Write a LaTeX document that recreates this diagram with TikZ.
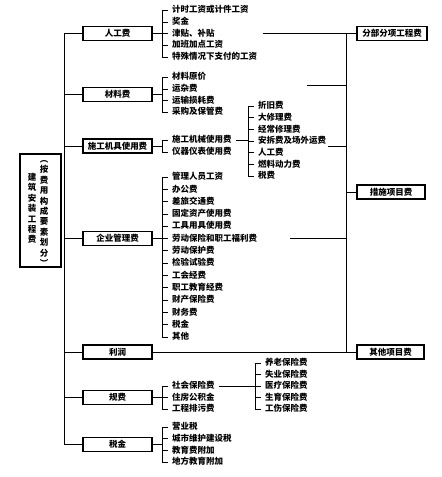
\documentclass[tikz,border=0pt]{standalone}
\usepackage{fontspec}
\setmainfont{Noto Sans CJK SC}
\usetikzlibrary{positioning,calc}

\tikzset{
  cat/.style={draw, line width=1.1pt, minimum width=69pt, minimum height=14pt, inner sep=0pt, font=\fontsize{8.5}{10}\selectfont\bfseries},
  item/.style={anchor=west, inner sep=1pt, outer sep=3pt, text height=7pt, text depth=1.5pt, font=\fontsize{8.5}{10}\selectfont\bfseries},
  vcol/.style={align=center, inner sep=0pt, font=\fontsize{8.5}{10.4}\selectfont\bfseries},
}

\begin{document}
\begin{tikzpicture}[x=1pt, y=-1pt, line width=0.8pt]
    \useasboundingbox (0,0) rectangle (442,477);
    % total
    \node[draw, line width=1.1pt, minimum width=41pt, minimum height=113pt] (gc) at (40.5,210.5) {};
    \node[vcol] (gca) at (32,208.5) {建\\筑\\安\\装\\工\\程\\费};
    \node[vcol] (gcb) at (44,213.5) {︵\\按\\费\\用\\构\\成\\要\\素\\划\\分\\︶};
    % cost elements
    \node[cat] (rg) at (117.5,33.5) {人工费};
    \node[cat] (cl) at (117.5,94.5) {材料费};
    \node[cat] (jj) at (117.5,146) {施工机具使用费};
    \node[cat] (qy) at (117.5,238.5) {企业管理费};
    \node[cat] (lr) at (117.5,352) {利润};
    \node[cat] (gf) at (117.5,397.5) {规费};
    \node[cat] (sj) at (117.5,444.5) {税金};
    % cost items
    \node[cat, minimum width=70pt] (fb) at (392,33.5) {分部分项工程费};
    \node[cat, minimum width=68pt] (cs) at (391,192) {措施项目费};
    \node[cat, minimum width=67pt] (qt) at (390.5,352) {其他项目费};

    \coordinate (lt) at (64,0);
    \coordinate (b1) at (162,0);
    \coordinate (b2) at (248,0);
    \coordinate (b3) at (255,0);
    \coordinate (rt) at (346,0);

    \foreach \n/\y/\t in {rg1/10/计时工资或计件工资, rg2/22/奖金, rg3/33.5/津贴、补贴,
        rg4/45/加班加点工资, rg5/57/特殊情况下支付的工资,
        cl1/77/材料原价, cl2/89/运杂费, cl3/100.5/运输损耗费, cl4/112/采购及保管费,
        jj1/140/施工机械使用费, jj2/152/仪器仪表使用费,
        gf1/386/社会保险费, gf2/397.5/住房公积金, gf3/409/工程排污费,
        sj1/427/营业税, sj2/438.7/城市维护建设税, sj3/450.3/教育费附加, sj4/462/地方教育附加}
        \node[item] (\n) at (168,\y) {\t};
    \foreach \t [count=\i] in {管理人员工资, 办公费, 差旅交通费, 固定资产使用费, 工具用具使用费,
        劳动保险和职工福利费, 劳动保护费, 检验试验费, 工会经费, 职工教育经费,
        财产保险费, 财务费, 税金, 其他}
        \node[item] (qy\i) at (168,{177+12.3*(\i-1)}) {\t};
    \foreach \t [count=\i] in {折旧费, 大修理费, 经常修理费, 安拆费及场外运费, 人工费, 燃料动力费, 税费}
        \node[item] (jx\i) at (254,{106+11.7*(\i-1)}) {\t};
    \foreach \t [count=\i] in {养老保险费, 失业保险费, 医疗保险费, 生育保险费, 工伤保险费}
        \node[item] (sb\i) at (261,{363+11.5*(\i-1)}) {\t};

    % left trunk
    \draw (lt |- rg) -- (lt |- sj);
    \foreach \c in {rg,cl,jj,qy,lr,gf,sj}
        \draw (lt |- \c) -- (\c.west);

    % brackets
    \foreach \c/\a/\z in {rg/rg1/rg5, cl/cl1/cl4, jj/jj1/jj2, qy/qy1/qy14, gf/gf1/gf3, sj/sj1/sj4} {
        \draw (\c.east) -- (b1 |- \c);
        \draw (b1 |- \a) -- (b1 |- \z);
    }
    \foreach \n in {rg1,rg2,rg3,rg4,rg5,cl1,cl2,cl3,cl4,jj1,jj2,gf1,gf2,gf3,sj1,sj2,sj3,sj4,
        qy1,qy2,qy3,qy4,qy5,qy6,qy7,qy8,qy9,qy10,qy11,qy12,qy13,qy14}
        \draw (b1 |- \n) -- (\n.west);
    \draw (jj1.east) -- (b2 |- jj1);
    \draw (b2 |- jx1) -- (b2 |- jx7);
    \foreach \i in {1,...,7}
        \draw (b2 |- jx\i) -- (jx\i.west);
    \draw (gf1.east) -- (b3 |- gf1);
    \draw (b3 |- sb1) -- (b3 |- sb5);
    \foreach \i in {1,...,5}
        \draw (b3 |- sb\i) -- (sb\i.west);

    % right trunk
    \coordinate (fa) at (263,33.5);
    \coordinate (fc) at (307,85);
    \coordinate (fd) at (328,146);
    \coordinate (fe) at (290,238.5);
    \draw (rt |- fb) -- (rt |- qt);
    \draw (fa) -- (fb.west);
    \draw (fc) -- (rt |- fc);
    \draw (fd) -- (rt |- fd);
    \draw (fe) -- (rt |- fe);
    \draw (rt |- cs) -- (cs.west);
    \draw (lr.east) -- (qt.west);
\end{tikzpicture}
\end{document}
